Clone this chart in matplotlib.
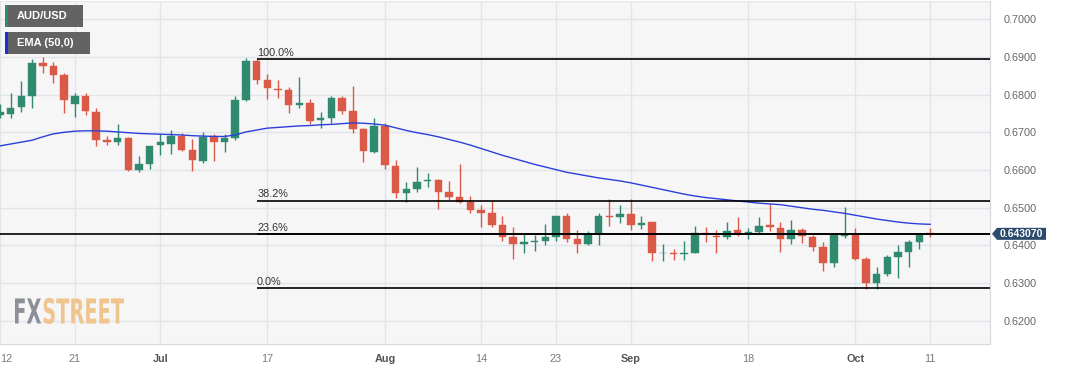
import matplotlib
matplotlib.use("Agg")
import matplotlib.pyplot as plt
from matplotlib.patches import Polygon, Rectangle, PathPatch
from matplotlib.textpath import TextPath
from matplotlib.font_manager import FontProperties
from matplotlib.transforms import Affine2D, IdentityTransform

# daily AUD/USD candles, 12 Jun -> 11 Oct (weekdays)
opens = [0.6746, 0.6748, 0.6767, 0.6796, 0.6885, 0.6876, 0.6851, 0.6776, 0.6796, 0.6755,
         0.6679, 0.6675, 0.6686, 0.6600, 0.6615, 0.6667, 0.6670, 0.6690, 0.6653, 0.6624,
         0.6690, 0.6675, 0.6684, 0.6786, 0.6889, 0.6839, 0.6816, 0.6812, 0.6773, 0.6779,
         0.6732, 0.6739, 0.6792, 0.6757, 0.6708, 0.6649, 0.6717, 0.6611, 0.6538, 0.6550,
         0.6570, 0.6573, 0.6543, 0.6528, 0.6514, 0.6495, 0.6485, 0.6453, 0.6422, 0.6403,
         0.6409, 0.6413, 0.6422, 0.6479, 0.6416, 0.6403, 0.6429, 0.6479, 0.6475, 0.6484,
         0.6453, 0.6461, 0.6379, 0.6381, 0.6378, 0.6379, 0.6434, 0.6425, 0.6421, 0.6441,
         0.6432, 0.6436, 0.6454, 0.6447, 0.6416, 0.6441, 0.6423, 0.6397, 0.6353, 0.6425,
         0.6428, 0.6363, 0.6301, 0.6324, 0.6370, 0.6383, 0.6410, 0.6433]
highs = [0.6775, 0.6805, 0.6835, 0.6894, 0.6900, 0.6887, 0.6856, 0.6803, 0.6805, 0.6764,
         0.6690, 0.6723, 0.6688, 0.6637, 0.6665, 0.6695, 0.6705, 0.6699, 0.6681, 0.6701,
         0.6695, 0.6695, 0.6796, 0.6896, 0.6894, 0.6854, 0.6838, 0.6819, 0.6847, 0.6788,
         0.6755, 0.6796, 0.6796, 0.6822, 0.6712, 0.6738, 0.6725, 0.6627, 0.6569, 0.6607,
         0.6591, 0.6576, 0.6572, 0.6615, 0.6532, 0.6506, 0.6519, 0.6479, 0.6449, 0.6429,
         0.6427, 0.6457, 0.6479, 0.6485, 0.6440, 0.6438, 0.6485, 0.6522, 0.6508, 0.6522,
         0.6479, 0.6462, 0.6404, 0.6391, 0.6413, 0.6451, 0.6450, 0.6441, 0.6463, 0.6476,
         0.6445, 0.6476, 0.6511, 0.6463, 0.6467, 0.6447, 0.6428, 0.6410, 0.6428, 0.6503,
         0.6445, 0.6368, 0.6342, 0.6374, 0.6401, 0.6414, 0.6433, 0.6445]
lows = [0.6738, 0.6737, 0.6755, 0.6765, 0.6856, 0.6832, 0.6752, 0.6741, 0.6746, 0.6664,
        0.6666, 0.6666, 0.6597, 0.6595, 0.6604, 0.6640, 0.6642, 0.6650, 0.6597, 0.6618,
        0.6624, 0.6649, 0.6680, 0.6783, 0.6829, 0.6788, 0.6792, 0.6750, 0.6765, 0.6721,
        0.6712, 0.6726, 0.6748, 0.6699, 0.6622, 0.6646, 0.6602, 0.6526, 0.6514, 0.6543,
        0.6556, 0.6497, 0.6521, 0.6512, 0.6485, 0.6450, 0.6449, 0.6413, 0.6363, 0.6379,
        0.6385, 0.6402, 0.6411, 0.6409, 0.6379, 0.6400, 0.6401, 0.6451, 0.6459, 0.6441,
        0.6444, 0.6359, 0.6359, 0.6361, 0.6361, 0.6379, 0.6410, 0.6379, 0.6416, 0.6425,
        0.6416, 0.6432, 0.6439, 0.6383, 0.6404, 0.6406, 0.6386, 0.6331, 0.6344, 0.6419,
        0.6361, 0.6284, 0.6284, 0.6319, 0.6313, 0.6342, 0.6390, 0.6423]
closes = [0.6754, 0.6765, 0.6795, 0.6885, 0.6876, 0.6852, 0.6785, 0.6796, 0.6757, 0.6679,
          0.6675, 0.6684, 0.6600, 0.6615, 0.6664, 0.6675, 0.6690, 0.6653, 0.6626, 0.6688,
          0.6675, 0.6686, 0.6785, 0.6889, 0.6839, 0.6817, 0.6812, 0.6773, 0.6779, 0.6730,
          0.6739, 0.6792, 0.6757, 0.6710, 0.6651, 0.6717, 0.6613, 0.6538, 0.6550, 0.6567,
          0.6573, 0.6543, 0.6528, 0.6514, 0.6495, 0.6485, 0.6453, 0.6422, 0.6403, 0.6409,
          0.6413, 0.6422, 0.6479, 0.6416, 0.6403, 0.6429, 0.6479, 0.6475, 0.6484, 0.6453,
          0.6460, 0.6381, 0.6381, 0.6378, 0.6381, 0.6434, 0.6430, 0.6421, 0.6439, 0.6430,
          0.6436, 0.6452, 0.6448, 0.6416, 0.6441, 0.6425, 0.6397, 0.6354, 0.6428, 0.6428,
          0.6363, 0.6301, 0.6324, 0.6368, 0.6383, 0.6410, 0.6430, 0.64307]
ema50 = [0.6664, 0.6669, 0.6674, 0.6679, 0.6688, 0.6696, 0.6700, 0.6703, 0.6704, 0.6704,
         0.6703, 0.6701, 0.6699, 0.6697, 0.6696, 0.6695, 0.6694, 0.6693, 0.6691, 0.6690,
         0.6689, 0.6689, 0.6693, 0.6701, 0.6706, 0.6711, 0.6713, 0.6715, 0.6717, 0.6718,
         0.6720, 0.6721, 0.6723, 0.6725, 0.6724, 0.6722, 0.6719, 0.6712, 0.6705, 0.6699,
         0.6694, 0.6688, 0.6681, 0.6674, 0.6666, 0.6657, 0.6648, 0.6639, 0.6631, 0.6623,
         0.6615, 0.6608, 0.6601, 0.6594, 0.6589, 0.6584, 0.6579, 0.6575, 0.6571, 0.6566,
         0.6560, 0.6554, 0.6548, 0.6542, 0.6536, 0.6531, 0.6527, 0.6524, 0.6521, 0.6518,
         0.6515, 0.6512, 0.6510, 0.6508, 0.6504, 0.6500, 0.6496, 0.6493, 0.6489, 0.6485,
         0.6480, 0.6475, 0.6470, 0.6466, 0.6462, 0.6459, 0.6457, 0.6456]

tick_idx = [0, 7, 15, 25, 36, 45, 52, 59, 70, 80, 87]
tick_labels = ["12", "21", "Jul", "17", "Aug", "14", "23", "Sep", "18", "Oct", "11"]
month_labels = ["Jul", "Aug", "Sep", "Oct"]

fib_start = 24  # Jul 14 swing high
fib_names = ["100.0%", "38.2%", "23.6%", "0.0%"]
fib_levels = [0.6895, 0.6519, 0.64305, 0.6287]
last_price = 0.64307

GREEN = "#2f8a6f"
RED = "#db5a47"
W, H = 1067, 370

plt.rcParams['font.family'] = ['Liberation Sans', 'DejaVu Sans']
fig = plt.figure(figsize=(W / 100, H / 100), dpi=100)
fig.patch.set_facecolor("white")
ax = fig.add_axes([0, 26 / H, 990 / W, 343 / H])
ax.set_facecolor("#f6f6f7")

n = len(closes)
for i in range(n):
    o, h, l, c = opens[i], highs[i], lows[i], closes[i]
    col = GREEN if c >= o else RED
    ax.vlines(i, l, h, color=col, lw=1.0, zorder=3)
    ax.bar(i, max(abs(c - o), 0.00006), bottom=min(o, c), width=0.7,
           color=col, edgecolor=col, lw=0.3, zorder=4)

ax.plot(range(n), ema50, color="#2b3fd8", lw=1.0, zorder=5)

xmax = 92.6
for name, lvl in zip(fib_names, fib_levels):
    ax.hlines(lvl, fib_start, xmax, color="black", lw=1.2, zorder=6)
    ax.text(fib_start + 0.05, lvl + 0.0003, name, fontsize=7.8, color="#333333",
            ha="left", va="bottom", zorder=7)
ax.axhline(last_price, color="black", lw=1.2, zorder=6)

ax.set_xlim(0.09, xmax)
ax.set_ylim(0.61385, 0.70483)

ax.set_yticks([0.62 + 0.01 * k for k in range(9)])
ax.yaxis.tick_right()
ax.set_yticklabels([f"{0.62 + 0.01 * k:.4f}" for k in range(9)])
ax.tick_params(axis="y", length=0, pad=10, labelsize=7.8, labelcolor="#666666")
ax.set_xticks(tick_idx)
ax.set_xticklabels(tick_labels)
ax.tick_params(axis="x", length=0, pad=7, labelsize=7.8, labelcolor="#7a7a7a")
for lab in ax.get_xticklabels():
    if lab.get_text() in month_labels:
        lab.set_fontweight("bold")
        lab.set_color("#555555")
ax.get_xticklabels()[0].set_horizontalalignment("left")
ax.grid(True, color="#e1e4e9", lw=1.0, zorder=0)
ax.set_axisbelow(True)
for side in ["left", "top"]:
    ax.spines[side].set_visible(False)
for side in ["right", "bottom"]:
    ax.spines[side].set_color("#d3d7de")
ax.axhline(ax.get_ylim()[1], color="#e3e6ea", lw=1.0, zorder=1)

# legend boxes
def tag(y0, w, label, stripe):
    fig.add_artist(Rectangle((5 / W, 1 - (y0 + 22) / H), w / W, 22 / H, transform=fig.transFigure,
                             facecolor="#5b5b5b", edgecolor="none", alpha=0.95, zorder=10))
    fig.add_artist(Rectangle((5 / W, 1 - (y0 + 22) / H), 2.5 / W, 22 / H, transform=fig.transFigure,
                             facecolor=stripe, edgecolor="none", zorder=11))
    fig.text(17 / W, 1 - (y0 + 11) / H, label, color="white", fontsize=8, fontweight="bold",
             ha="left", va="center", zorder=12)

tag(5, 78, "AUD/USD", GREEN)
tag(32, 85, "EMA (50,0)", "#1a2fe0")

# last price flag
fig.canvas.draw()
py = ax.transData.transform((0, last_price))[1]
flag = [(992, py), (997, py + 6), (1046, py + 6), (1046, py - 6), (997, py - 6)]
fig.add_artist(Polygon(flag, closed=True, transform=IdentityTransform(),
                       facecolor="#2c4a6c", edgecolor="none", zorder=10))
fig.text(1021.5 / W, py / H, "0.643070", color="white", fontsize=7.5, fontweight="bold",
         ha="center", va="center", zorder=11)

# FXSTREET watermark
fp = FontProperties(family="DejaVu Sans", weight="bold")
full = TextPath((0, 0), "FXSTREET", size=1, prop=fp).get_extents()
fx = TextPath((0, 0), "FX", size=1, prop=fp)
st = TextPath((fx.get_extents().x1 + 0.06, 0), "STREET", size=1, prop=fp)
sx = 109 / (st.get_extents().x1 - full.x0)
sy = 26 / full.height
tr = Affine2D().translate(-full.x0, -full.y0).scale(sx, sy).translate(15, H - 324)
fig.add_artist(PathPatch(fx, transform=tr + IdentityTransform(), facecolor="#8d9099",
                         edgecolor="none", zorder=10))
fig.add_artist(PathPatch(st, transform=tr + IdentityTransform(), facecolor="#f0c48d",
                         edgecolor="none", zorder=10))

fig.savefig("out.png", dpi=100, facecolor="white")
